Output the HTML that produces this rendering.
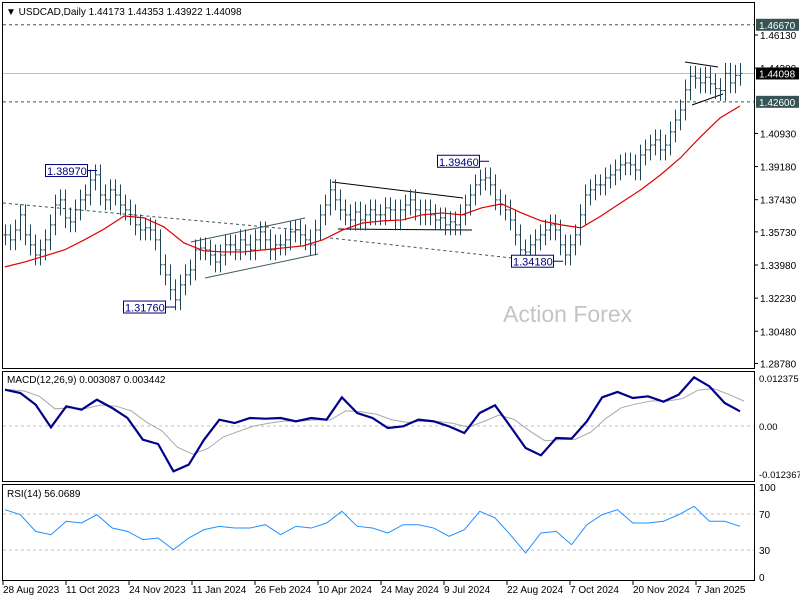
<!DOCTYPE html>
<html><head><meta charset="utf-8"><style>
body{margin:0;background:#fff;}
svg{display:block;font-family:"Liberation Sans",sans-serif;}
</style></head><body>
<svg id="c" width="800" height="600" viewBox="0 0 800 600"></svg>
<script>
// ---- data ----
const closes=[1.3557,1.3531,1.3583,1.3663,1.3557,1.3504,1.3451,1.3478,1.3531,1.3610,
1.3715,1.3742,1.3647,1.3626,1.3689,1.3742,1.3768,1.3847,1.3874,1.3768,
1.3742,1.3795,1.3768,1.3715,1.3689,1.3663,1.3610,1.3583,1.3594,1.3583,
1.3531,1.3399,1.3346,1.3267,1.3214,1.3293,1.3346,1.3372,1.3478,1.3488,
1.3478,1.3451,1.3414,1.3451,1.3504,1.3504,1.3478,1.3531,1.3504,1.3478,
1.3531,1.3573,1.3531,1.3478,1.3504,1.3504,1.3531,1.3573,1.3583,1.3557,
1.3531,1.3504,1.3583,1.3663,1.3715,1.3795,1.3742,1.3689,1.3663,1.3636,
1.3678,1.3636,1.3663,1.3689,1.3663,1.3663,1.3700,1.3689,1.3636,1.3689,
1.3715,1.3742,1.3689,1.3663,1.3689,1.3663,1.3636,1.3647,1.3610,1.3626,
1.3610,1.3663,1.3715,1.3768,1.3821,1.3847,1.3858,1.3821,1.3742,1.3715,
1.3689,1.3636,1.3557,1.3478,1.3467,1.3504,1.3531,1.3557,1.3583,1.3610,
1.3583,1.3504,1.3451,1.3504,1.3557,1.3663,1.3768,1.3795,1.3821,1.3821,
1.3858,1.3874,1.3900,1.3927,1.3937,1.3927,1.3900,1.3979,1.4006,1.4032,
1.4059,1.4006,1.4032,1.4101,1.4164,1.4217,1.4323,1.4395,1.4385,1.4360,
1.4390,1.4355,1.4330,1.4320,1.4410,1.4360,1.4400,1.4410];
const maValues=[1.3388,1.3414,1.3446,1.3478,1.3531,1.3589,1.3657,1.3647,1.3599,1.3515,1.3473,1.3467,1.3467,1.3478,1.3488,1.3499,1.3531,1.3583,1.3620,1.3631,1.3636,1.3663,1.3673,1.3663,1.3700,1.3721,1.3673,1.3631,1.3610,1.3594,1.3657,1.3726,1.3795,1.3874,1.3964,1.4074,1.4175,1.4238];
const macdValues=[0.00937,0.00851,0.00550,-0.00034,0.00507,0.00421,0.00679,0.00464,0.00206,-0.00352,-0.00464,-0.01169,-0.00997,-0.00352,0.00163,0.00077,0.00206,0.00189,0.00206,0.00120,0.00206,0.00163,0.00739,0.00335,0.00206,-0.00052,-0.00009,0.00163,0.00120,-0.00009,-0.00180,0.00335,0.00533,-0.00009,-0.00567,-0.00756,-0.00309,-0.00326,0.00120,0.00739,0.00877,0.00722,0.00765,0.00627,0.00808,0.01255,0.01023,0.00593,0.00378];
const rsiValues=[74.8,69.3,50.7,47.0,61.9,60.0,69.3,54.4,50.7,41.5,43.3,30.4,43.3,52.6,56.3,54.4,54.4,58.1,47.0,56.3,54.4,60.0,73.0,56.3,54.4,48.9,58.1,58.1,54.4,45.2,52.6,73.0,65.6,47.0,26.7,48.9,50.7,35.9,58.1,69.3,74.8,60.0,60.0,61.9,69.3,78.5,61.9,61.9,56.3];
const priceTicks=[1.46130,1.44380,1.40930,1.39180,1.37430,1.35730,1.33980,1.32230,1.30480,1.28780];
const dateLabels=["28 Aug 2023","11 Oct 2023","24 Nov 2023","11 Jan 2024","26 Feb 2024","10 Apr 2024","24 May 2024","9 Jul 2024","22 Aug 2024","7 Oct 2024","20 Nov 2024","7 Jan 2025"];
const dateIdx=[0,32,64,96,128,160,192,224,256,288,320,352];
const peakLabels=["1.38970","1.31760","1.39460","1.34180"];
const peakPrices=[1.3897,1.3176,1.3946,1.3418];

// ---- axes ----
const NS="http://www.w3.org/2000/svg";
const svg=document.getElementById('c');
function py(p){return 35+(1.4613-p)*1893;}
function bx(i,n){return 5+i*(735/(n-1));}
function my(v){return 426-v*(48/0.012375);}
function ry(v){return 577-v*0.9;}
function dx(d){return 3+d*(693/352);}
function mk(tag,attrs,name,parent){const e=document.createElementNS(NS,tag);for(const k in attrs)e.setAttribute(k,attrs[k]);


(parent||svg).appendChild(e);return e;}
function txt(x,y,s,name,attrs){const e=mk('text',Object.assign({x:x,y:y,'font-size':10,fill:'#000'},attrs||{}),name);e.textContent=s;return e;}

// panels
mk('rect',{x:2.5,y:2.5,width:752,height:366,fill:'none',stroke:'#000'},'main-panel');
mk('rect',{x:2.5,y:371.5,width:752,height:110,fill:'none',stroke:'#000'},'macd-panel');
mk('rect',{x:2.5,y:484.5,width:752,height:96,fill:'none',stroke:'#000'},'rsi-panel');

// watermark
txt(503,322,'Action Forex','watermark',{'font-size':23,fill:'#c4c4c4'});

// levels
mk('line',{x1:3,x2:754,y1:py(1.4667),y2:py(1.4667),stroke:'#3a5a5a','stroke-dasharray':'3,3'},'resistance-line');
mk('line',{x1:3,x2:754,y1:py(1.4260),y2:py(1.4260),stroke:'#3a5a5a','stroke-dasharray':'3,3'},'support-line');
mk('line',{x1:3,x2:754,y1:py(1.44098),y2:py(1.44098),stroke:'#c0c0c0'},'current-price-line');

// trendlines
mk('line',{x1:3,y1:203,x2:300,y2:230,stroke:'#3a5a5a','stroke-dasharray':'3,3'},'trendline-1');
mk('line',{x1:330,y1:238,x2:512,y2:258,stroke:'#3a5a5a','stroke-dasharray':'3,3'},'trendline-2');
mk('line',{x1:191,y1:242,x2:305,y2:218,stroke:'#3a5a5a'},'channel-upper');
mk('line',{x1:205,y1:278,x2:318,y2:254,stroke:'#3a5a5a'},'channel-lower');
mk('line',{x1:332,y1:182,x2:463,y2:198,stroke:'#000'},'triangle-upper');
mk('line',{x1:338,y1:229,x2:472,y2:230,stroke:'#000'},'triangle-lower');
mk('line',{x1:685,y1:62,x2:718,y2:67,stroke:'#000'},'flag-upper');
mk('line',{x1:692,y1:105,x2:723,y2:94,stroke:'#000'},'flag-lower');

// bars
const g=mk('g',{stroke:'#1e4658','stroke-width':1},'price-bars');
closes.forEach((c,i)=>{const o=i?closes[i-1]:c;const x=Math.round(bx(i,closes.length))+0.5;
const h=Math.max(o,c)+0.0055,l=Math.min(o,c)-0.0055;
const b=mk('path',{d:`M${x} ${py(h)}V${py(l)}M${x-2} ${py(o)}H${x}M${x} ${py(c)}H${x+2}`},'price-bar',g);});

// MA
mk('polyline',{points:maValues.map((v,i)=>`${bx(i,maValues.length)},${py(v)}`).join(' '),fill:'none',stroke:'#e00000','stroke-width':1.2},'moving-average-line');

// peak labels
const lp=[[45,97],[123,176],[437,489],[511,563]];
peakLabels.forEach((s,i)=>{const y=py(peakPrices[i]);const bw=42,x0=lp[i][0];
mk('rect',{x:x0+0.5,y:y-6,width:bw,height:12,fill:'#fff',stroke:'#000080'},'peak-label-box');
mk('line',{x1:x0+bw,x2:lp[i][1],y1:y,y2:y,stroke:'#000080'},'peak-label-connector');
txt(x0+2,y+4.5,s,'peak-label',{fill:'#000080','font-size':11});});

// price axis
priceTicks.forEach(p=>{const y=py(p);mk('line',{x1:754,x2:758,y1:y,y2:y,stroke:'#000'},'price-tick');txt(760,y+4,p.toFixed(5),'price-tick-label');});
function tag(p,bg,name){const y=py(p);mk('rect',{x:756,y:y-6,width:43,height:12,fill:bg},name+'-bg');txt(759,y+4,p.toFixed(5),name,{fill:'#fff'});}
tag(1.4667,'#365454','tag-146670');tag(1.44098,'#000','tag-current-price');tag(1.4260,'#365454','tag-142600');

txt(6,15,'▼ USDCAD,Daily  1.44173 1.44353 1.43922 1.44098','chart-title',{'font-size':10});

// MACD
txt(7,383,'MACD(12,26,9) 0.003087 0.003442','macd-title',{'font-size':10});
mk('line',{x1:3,x2:754,y1:my(0),y2:my(0),stroke:'#c0c0c0','stroke-dasharray':'3,3'},'macd-zero-line');
let s=macdValues[0];const sig=macdValues.map(v=>(s=s+0.4*(v-s)));
mk('polyline',{points:sig.map((v,i)=>`${bx(i,sig.length)+4},${my(v)}`).join(' '),fill:'none',stroke:'#a8a8a8','stroke-width':1},'macd-signal-line');
mk('polyline',{points:macdValues.map((v,i)=>`${bx(i,macdValues.length)},${my(v)}`).join(' '),fill:'none',stroke:'#00008b','stroke-width':2.2},'macd-line');
[[0.012375,'0.012375'],[0,'0.00'],[-0.012367,'-0.012367']].forEach(t=>txt(759,my(t[0])+4,t[1],'macd-tick-label',{'font-size':9.5}));

// RSI
txt(7,497,'RSI(14) 56.0689','rsi-title',{'font-size':10});
[70,30].forEach(v=>mk('line',{x1:3,x2:754,y1:ry(v),y2:ry(v),stroke:'#c0c0c0','stroke-dasharray':'3,3'},'rsi-level-line'));
mk('polyline',{points:rsiValues.map((v,i)=>`${bx(i,rsiValues.length)},${ry(v)}`).join(' '),fill:'none',stroke:'#1e90ff','stroke-width':1},'rsi-line');
[[100,'100'],[70,'70'],[30,'30'],[0,'0']].forEach(t=>txt(759,ry(t[0])+4,t[1],'rsi-tick-label',{'font-size':10}));

// dates
dateLabels.forEach((s,i)=>{const x=dx(dateIdx[i]);mk('line',{x1:x,x2:x,y1:581,y2:585,stroke:'#000'},'date-tick');txt(x,593,s,'date-label',{'font-size':10});});
</script>
</body></html>
